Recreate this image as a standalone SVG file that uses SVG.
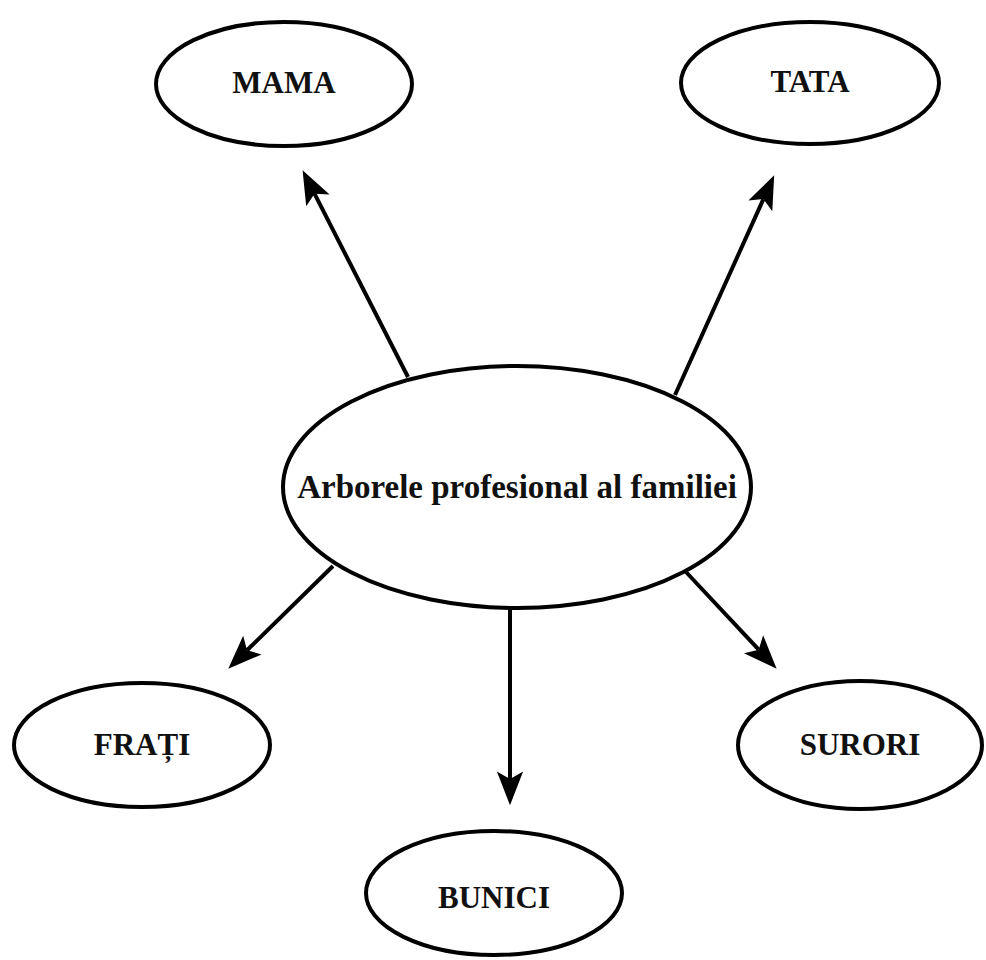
<svg xmlns="http://www.w3.org/2000/svg" width="986" height="960" viewBox="0 0 986 960">
  <style>
    .node ellipse { fill: #ffffff; stroke: #000000; stroke-width: 4; }
    .node text { font-family: "Liberation Serif", "Times New Roman", serif; font-weight: bold; font-size: 31px; fill: #111111; text-anchor: middle; }
    #center text { font-size: 33px; }
    .edge { stroke: #000000; stroke-width: 4; fill: none; marker-end: url(#arrow); }
  </style>
  <defs>
    <!-- notched arrowhead; the line ends at the notch -->
    <marker id="arrow" markerUnits="userSpaceOnUse" markerWidth="40" markerHeight="30" viewBox="-8 -12 32 24" refX="0" refY="0" orient="auto">
      <path d="M21,0 L-6,-10.5 L0,0 L-6,10.5 Z" fill="#000000"/>
    </marker>
  </defs>
  <rect width="986" height="960" fill="#ffffff"/>

  <g id="connectors">
    <line class="edge" x1="408" y1="377" x2="314.5" y2="193.7"/>
    <line class="edge" x1="675" y1="395" x2="763.4" y2="199.1"/>
    <line class="edge" x1="333" y1="566" x2="247" y2="650.3"/>
    <line class="edge" x1="510" y1="608" x2="510" y2="779"/>
    <line class="edge" x1="686" y1="572" x2="758.7" y2="649.7"/>
  </g>

  <g id="center" class="node">
    <ellipse cx="517" cy="487" rx="234" ry="121"/>
    <text x="517" y="498">Arborele profesional al familiei</text>
  </g>
  <g id="mama" class="node">
    <ellipse cx="284" cy="84" rx="128" ry="62"/>
    <text x="284" y="93">MAMA</text>
  </g>
  <g id="tata" class="node">
    <ellipse cx="810" cy="83" rx="129" ry="61"/>
    <text x="810" y="92">TATA</text>
  </g>
  <g id="frati" class="node">
    <ellipse cx="142" cy="745" rx="128" ry="62"/>
    <text x="142" y="755">FRAȚI</text>
  </g>
  <g id="surori" class="node">
    <ellipse cx="860" cy="745" rx="122" ry="64"/>
    <text x="860" y="755">SURORI</text>
  </g>
  <g id="bunici" class="node">
    <ellipse cx="494" cy="893" rx="128" ry="62"/>
    <text x="494" y="908">BUNICI</text>
  </g>
</svg>
